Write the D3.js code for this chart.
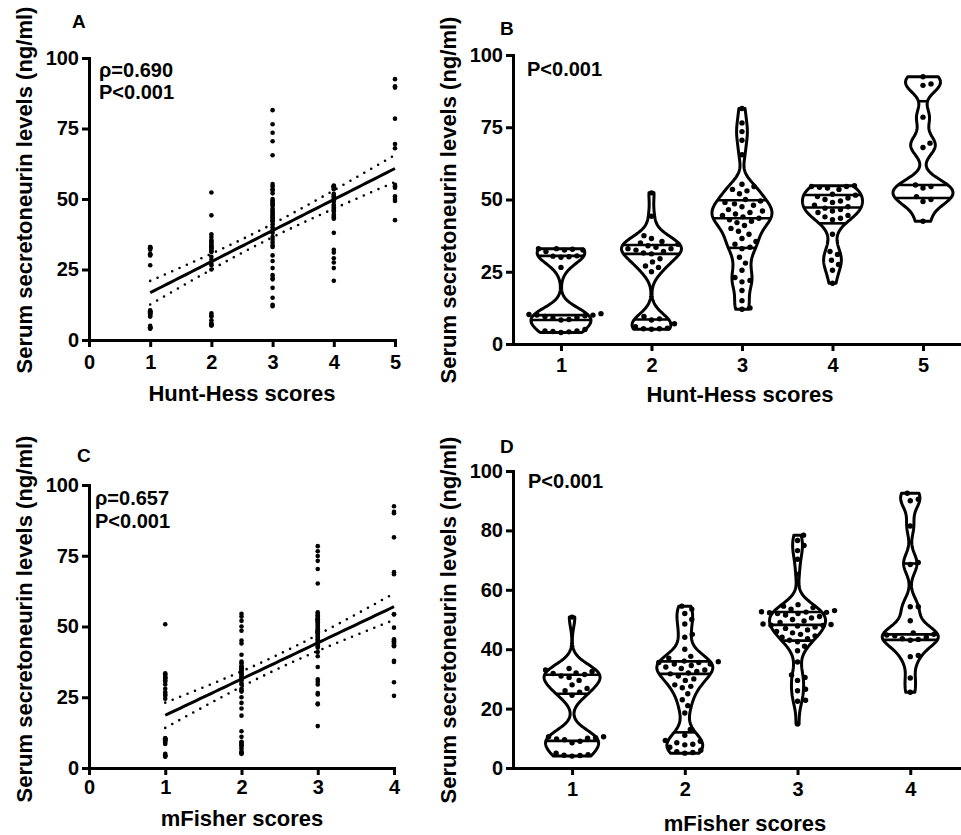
<!DOCTYPE html>
<html lang="en">
<head>
<meta charset="UTF-8">
<title>Serum secretoneurin by Hunt-Hess and mFisher scores</title>
<script src="https://d3js.org/d3.v7.min.js"></script>
<style>
  body { margin: 0; background: #fff; }
  svg { display: block; font-family: "Liberation Sans", Arial, sans-serif; font-weight: bold; }
  .axis path, .axis line { stroke: #000; stroke-width: 3; }
  .axis path { stroke-linecap: square; }
  .axis text { font-size: 20px; font-weight: bold; fill: #000; font-family: "Liberation Sans", Arial, sans-serif; }
  .title { font-size: 22px; }
  .note { font-size: 20px; }
  .letter { font-size: 19px; }
</style>
</head>
<body>
<svg id="fig" width="961" height="835"></svg>
<script>
// serum secretoneurin (ng/ml) grouped by Hunt-Hess score
const hhScores = [1, 2, 3, 4, 5];
const hh1 = [4, 4.2, 4.3, 4.5, 4.5, 5, 8.3, 8.5, 9, 9.2, 9.5, 9.8, 10, 10, 10.2, 10.5, 26.5, 30, 30.2, 30.4, 30.5, 32, 32.5, 32.5, 32.8, 33, 33];
const hh2 = [5.1, 5.3, 5.3, 5.5, 6, 7, 8.3, 8.7, 9.5, 25, 26.5, 27, 28.4, 29.5, 31.2, 31.5, 32, 32.5, 33, 33, 33.5, 34, 34.5, 35, 35.5, 36.5, 37.5, 44.2, 52.3];
const hh3 = [12, 12.5, 15, 18.5, 21.5, 22, 23, 25.5, 28, 30, 33, 33.5, 34.5, 35.5, 36.5, 38, 39, 40, 41, 42, 42.5, 43, 43.5, 44, 44.5, 45, 45.5, 46, 46.5, 47.5, 48, 48.5, 49, 49.5, 50, 52, 53, 53.5, 54.5, 55.3, 65.5, 70.5, 73.5, 76.5, 81.5];
const hh4 = [21, 25.5, 27.5, 29, 31, 32, 38, 43, 43.5, 44, 44.5, 45.5, 46, 46.5, 47, 47.5, 48, 49, 49.5, 50, 50.5, 51, 51.5, 51.8, 53.5, 54, 54.2, 54.5, 54.5, 54.8];
const hh5 = [42.5, 49.3, 50, 51, 54, 54.5, 55, 68, 69.5, 78.5, 89.5, 90, 92.5];

// the same measurements grouped by mFisher score
const mfScores = [1, 2, 3, 4];
const mf1 = [4, 4.2, 4.3, 4.5, 5, 8.5, 9, 9.5, 9.8, 10, 10.2, 10.5, 10.5, 24.5, 25.5, 26, 26.8, 28, 29.5, 30.5, 31, 31.5, 31.8, 32, 32.5, 33, 33.5, 50.8];
const mf2 = [5, 5.2, 5.5, 6, 7, 7.8, 8, 8.5, 9, 9.3, 11, 13, 18.5, 21, 23, 25, 27, 27.5, 28, 29.5, 30, 31, 31.7, 32, 32.5, 33, 33.5, 34, 34.5, 35, 35, 35.5, 35.5, 35.8, 36, 37, 37.6, 40, 44, 45, 48.5, 50, 52, 53.5, 54.5];
const mf3 = [14.8, 22.5, 22.8, 26, 26.5, 29.5, 30.5, 31.3, 35.7, 39.5, 41, 42.5, 43, 43.5, 44, 44.5, 45, 45.5, 46, 46.5, 47, 47.5, 47.8, 48, 48.1, 48.3, 48.5, 49, 49.5, 50, 50.5, 51, 51.5, 52, 52, 52.3, 52.4, 52.5, 52.6, 53, 53.5, 54, 54.5, 55, 65.2, 70.3, 73.2, 74.9, 76.6, 78.4];
const mf4 = [25.5, 30.3, 37.5, 37.9, 43, 43.3, 43.5, 44, 44.5, 44.8, 45, 45.5, 49.6, 54.3, 54.3, 68.5, 69.2, 81.5, 90, 90.5, 92.5];

const hhGroups = [hh1, hh2, hh3, hh4, hh5];
const mfGroups = [mf1, mf2, mf3, mf4];

const yTitle = "Serum secretoneurin levels (ng/ml)";
const ticks25 = [0, 25, 50, 75, 100];
const ticks20 = [0, 20, 40, 60, 80, 100];
const tCrit = 1.977; // two-sided 95%, df ~ 140

const svg = d3.select("#fig");

// quartiles the way Prism computes them: position (n+1)p
function quartile(sorted, p) {
  const n = sorted.length, h = (n + 1) * p, lo = Math.floor(h);
  if (lo < 1) return sorted[0];
  if (lo >= n) return sorted[n - 1];
  return sorted[lo - 1] + (h - lo) * (sorted[lo] - sorted[lo - 1]);
}

function axes(x, y, xTicks, yTicks, xPad, yPad) {
  svg.append("g").attr("class", "axis")
    .attr("transform", `translate(0,${y.range()[0]})`)
    .call(d3.axisBottom(x).tickValues(xTicks).tickFormat(d3.format("d"))
      .tickSize(7).tickSizeOuter(0).tickPadding(xPad));
  svg.append("g").attr("class", "axis")
    .attr("transform", `translate(${x.range()[0]},0)`)
    .call(d3.axisLeft(y).tickValues(yTicks).tickFormat(d3.format("d"))
      .tickSize(7).tickSizeOuter(0).tickPadding(yPad));
}

function label(txt, x, y, cls, rotate) {
  const t = svg.append("text").attr("class", cls).text(txt);
  if (rotate) t.attr("transform", `translate(${x},${y}) rotate(-90)`).attr("text-anchor", "middle");
  else t.attr("x", x).attr("y", y);
  return t;
}

// scatter with least-squares line and its 95% confidence band
function scatterPanel(groups, scores, x, y) {
  const pts = groups.flatMap((g, i) => g.map(v => [scores[i], v]));
  svg.append("g").selectAll("circle").data(pts).join("circle")
    .attr("cx", d => x(d[0])).attr("cy", d => y(d[1])).attr("r", 2.3).attr("fill", "#000");

  const n = pts.length;
  const mx = d3.mean(pts, d => d[0]), my = d3.mean(pts, d => d[1]);
  const sxx = d3.sum(pts, d => (d[0] - mx) ** 2);
  const sxy = d3.sum(pts, d => (d[0] - mx) * (d[1] - my));
  const b = sxy / sxx, a = my - b * mx;
  const s = Math.sqrt(d3.sum(pts, d => (d[1] - a - b * d[0]) ** 2) / (n - 2));
  const half = x0 => tCrit * s * Math.sqrt(1 / n + (x0 - mx) ** 2 / sxx);

  const xs = d3.range(0, 61).map(i => scores[0] + (scores[scores.length - 1] - scores[0]) * i / 60);
  const line = f => d3.line().x(v => x(v)).y(v => y(f(v)))(xs);
  [v => a + b * v + half(v), v => a + b * v - half(v)].forEach(f => {
    svg.append("path").attr("d", line(f)).attr("fill", "none").attr("stroke", "#000")
      .attr("stroke-width", 2.6).attr("stroke-linecap", "round").attr("stroke-dasharray", "0 8");
  });
  svg.append("path").attr("d", line(v => a + b * v)).attr("fill", "none")
    .attr("stroke", "#000").attr("stroke-width", 3);
}

// truncated violin with quartile lines and a swarm of points
function violinPanel(groups, scores, x, y, halfW, bw) {
  groups.forEach((vals, i) => {
    const cx = x(scores[i]);
    const s = vals.slice().sort(d3.ascending);
    const lo = s[0], hi = s[s.length - 1];
    const dens = v => d3.sum(s, xi => Math.exp(-0.5 * ((v - xi) / bw) ** 2));
    const grid = d3.range(0, 121).map(k => lo + (hi - lo) * k / 120);
    const peak = d3.max(grid, dens);
    const w = v => halfW * dens(v) / peak;
    const area = d3.area().y(v => y(v)).x0(v => cx - w(v)).x1(v => cx + w(v));
    const g = svg.append("g");
    g.append("path").attr("d", area(grid)).attr("fill", "#fff")
      .attr("stroke", "#000").attr("stroke-width", 3).attr("stroke-linejoin", "round");
    [0.25, 0.5, 0.75].forEach(p => {
      const q = quartile(s, p);
      g.append("line").attr("x1", cx - w(q)).attr("x2", cx + w(q))
        .attr("y1", y(q)).attr("y2", y(q)).attr("stroke", "#000").attr("stroke-width", 2.6);
    });

    // simple beeswarm: nearest free horizontal slot for each point
    const placed = [], dmin = 8;
    s.forEach(v => {
      const py = y(v);
      for (let k = 0; ; k++) {
        const off = (k % 2 ? 1 : -1) * Math.ceil(k / 2) * 0.5;
        const px = cx + off;
        if (placed.every(p => (p[0] - px) ** 2 + (p[1] - py) ** 2 >= dmin * dmin)) {
          placed.push([px, py]);
          break;
        }
      }
    });
    g.selectAll("circle").data(placed).join("circle")
      .attr("cx", d => d[0]).attr("cy", d => d[1]).attr("r", 2.7).attr("fill", "#000");
  });
}

// A: Hunt-Hess scatter
const xA = d3.scaleLinear().domain([0, 5]).range([89, 395]);
const yA = d3.scaleLinear().domain([0, 100]).range([340, 58]);
axes(xA, yA, [0, 1, 2, 3, 4, 5], ticks25, 8, 3);
scatterPanel(hhGroups, hhScores, xA, yA);
label("A", 72, 28, "letter");
label("ρ=0.690", 99, 77, "note");
label("P<0.001", 99, 99, "note");
label("Hunt-Hess scores", 242, 401, "title").attr("text-anchor", "middle");
label(yTitle, 32, 190, "title", true);

// B: Hunt-Hess violins
const xB = d3.scaleLinear().domain([0.47, 5.42]).range([513, 961]);
const yB = d3.scaleLinear().domain([0, 100]).range([344, 55]);
axes(xB, yB, hhScores, ticks25, 7, 3);
violinPanel(hhGroups, hhScores, xB, yB, 30, 3.3);
label("B", 500, 35, "letter");
label("P<0.001", 527, 76, "note");
label("Hunt-Hess scores", 740, 402, "title").attr("text-anchor", "middle");
label(yTitle, 456, 200, "title", true);

// C: mFisher scatter
const xC = d3.scaleLinear().domain([0, 4]).range([89, 394]);
const yC = d3.scaleLinear().domain([0, 100]).range([768, 485]);
axes(xC, yC, [0, 1, 2, 3, 4], ticks25, 5, 3);
scatterPanel(mfGroups, mfScores, xC, yC);
label("C", 77, 462, "letter");
label("ρ=0.657", 95, 505, "note");
label("P<0.001", 95, 528, "note");
label("mFisher scores", 242, 826, "title").attr("text-anchor", "middle");
label(yTitle, 32, 619, "title", true);

// D: mFisher violins
const xD = d3.scaleLinear().domain([0.476, 4.45]).range([513, 961]);
const yD = d3.scaleLinear().domain([0, 100]).range([768, 471]);
axes(xD, yD, mfScores, ticks20, 7, 3);
violinPanel(mfGroups, mfScores, xD, yD, 28, 3.3);
label("D", 500, 453, "letter");
label("P<0.001", 528, 488, "note");
label("mFisher scores", 745, 831, "title").attr("text-anchor", "middle");
label(yTitle, 456, 620, "title", true);
</script>
</body>
</html>
